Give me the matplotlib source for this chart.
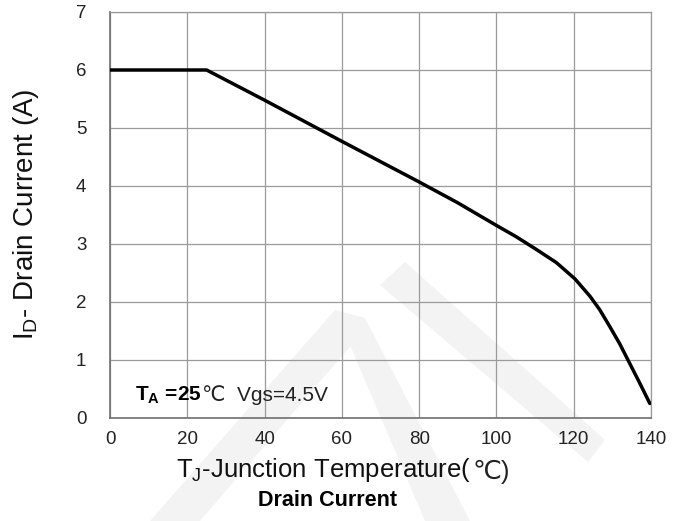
import matplotlib
matplotlib.use("Agg")
import matplotlib.pyplot as plt
from matplotlib.patches import Polygon
from matplotlib.transforms import Affine2D

plt.rcParams["font.family"] = ["Liberation Sans", "DejaVu Sans"]
plt.rcParams["mathtext.fontset"] = "custom"
plt.rcParams["mathtext.rm"] = "Liberation Sans"
plt.rcParams["mathtext.bf"] = "Liberation Sans:bold"

# derating curve: drain current vs junction temperature
temp_c = [0, 25, 40, 60, 70, 80, 90, 100, 105, 110, 115.5, 120.3, 124.2, 126.7,
          129.3, 131.9, 134.5, 137.1, 139.7]
drain_a = [6.0, 6.0, 5.48, 4.77, 4.42, 4.07, 3.71, 3.32, 3.13, 2.92, 2.68, 2.40, 2.10, 1.87,
           1.58, 1.28, 0.94, 0.60, 0.25]

x_ticks = [0, 20, 40, 60, 80, 100, 120, 140]
y_ticks = [0, 1, 2, 3, 4, 5, 6, 7]

W, H = 688, 521
fig = plt.figure(figsize=(W / 100, H / 100), dpi=100)

# pale watermark strokes behind the plot (pixel coords, origin top-left)
px = Affine2D().scale(1 / W, -1 / H).translate(0, 1) + fig.transFigure
strokes = [
    [(150, 521), (200, 521), (360, 335), (335, 310)],
    [(335, 310), (365, 318), (470, 521), (425, 521)],
    [(380, 285), (405, 262), (605, 440), (588, 462)],
]
for pts in strokes:
    fig.patches.append(Polygon(pts, closed=True, transform=px,
                               facecolor="#f3f3f3", edgecolor="none", zorder=0))

ax = fig.add_axes([110 / W, 1 - 418 / H, 541 / W, 406 / H])
ax.patch.set_visible(False)
ax.set_zorder(1)

ax.plot(temp_c, drain_a, color="black", linewidth=2.5, solid_capstyle="round",
        solid_joinstyle="round", zorder=3)

ax.set_xlim(0, 140)
ax.set_ylim(0, 7)
ax.set_xticks(x_ticks)
ax.set_yticks(y_ticks)
ax.grid(True, color="#9a9a9a", linewidth=0.9)
ax.tick_params(length=0, labelsize=13.5, labelcolor="#222222")
ax.tick_params(axis="y", pad=17)
ax.tick_params(axis="x", pad=9)
for side in ["top", "right"]:
    ax.spines[side].set_color("#9a9a9a")
    ax.spines[side].set_linewidth(0.9)
for side in ["left", "bottom"]:
    ax.spines[side].set_color("#707070")
    ax.spines[side].set_linewidth(1.2)

# operating condition note
t1 = ax.text(6.5, 0.40, r"T$_\mathbf{A}$ =25", fontsize=15, fontweight="bold",
             va="center", ha="left", zorder=4)
ax.annotate("℃  Vgs=4.5V", xy=(1, 0.5), xycoords=t1, xytext=(0, 0),
            textcoords="offset points", va="center", ha="left", fontsize=15,
            color="#222222")

# x label: subscript part through mathtext, degree sign as plain text
xl = fig.text(176 / W, 1 - 470 / H, r"T$_\mathregular{J}$-Junction Temperature(",
              fontsize=18.5, ha="left", va="center", color="#111111")
ax.annotate("℃)", xy=(1, 0), xycoords=xl, xytext=(1, 0), textcoords="offset points",
            ha="left", va="bottom", fontsize=18.5, color="#222222", annotation_clip=False)

fig.text(327 / W, 1 - 500 / H, "Drain Current", fontsize=15.5, fontweight="bold",
         ha="center", va="center")
fig.text(26 / W, 1 - 214 / H, r"I$_\mathregular{D}$- Drain Current (A)", fontsize=20,
         rotation=90, ha="center", va="center", color="#111111")

fig.savefig("out.png", dpi=100)
